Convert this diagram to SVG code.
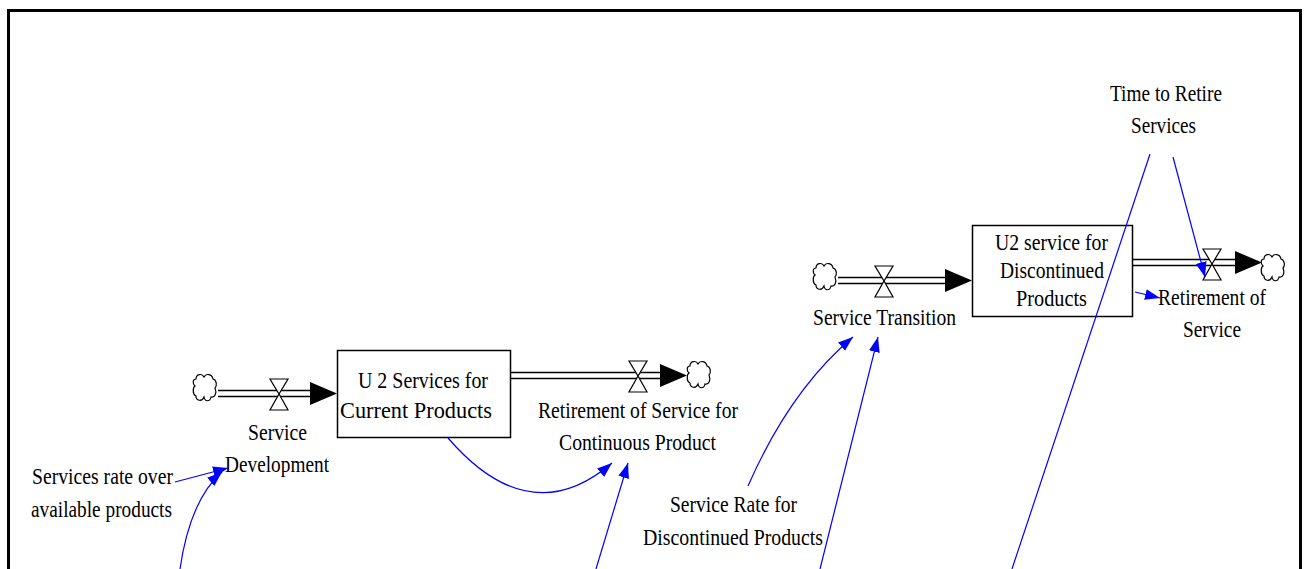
<svg xmlns="http://www.w3.org/2000/svg" width="1304" height="569" viewBox="0 0 1304 569">
<style>
.t{font-family:"Liberation Serif","Times New Roman",serif;font-size:23px;fill:#000}
.box{fill:#fff;stroke:#000;stroke-width:1.5}
.pipe{fill:none;stroke:#000;stroke-width:1.5}
.valve{fill:#fff;stroke:#000;stroke-width:1.2}
.cloud{fill:#fff;stroke:#000;stroke-width:1.2}
.link{fill:none;stroke:#0000ff;stroke-width:1.2}
</style>
<defs>
<marker id="ba" markerUnits="userSpaceOnUse" markerWidth="16" markerHeight="12" refX="15" refY="5.5" orient="auto">
<path d="M0,0 L15,5.5 L0,11 Z" fill="#0000ff"/>
</marker>
<path id="cloud" class="cloud" d="M -9,-9 C -9,-14 -3,-15 -1,-11 C 1,-15 7,-14 8,-9 C 12,-8 12,-2 10,0 C 12,5 10,10 6,9 C 5,14 0,14 -1,9 C -3,14 -9,13 -9,8 C -13,6 -12,-1 -10,-2 C -13,-5 -12,-9 -9,-9 Z"/>
<path id="valve" class="valve" d="M -9,-15 L 9,-15 L 0,0 Z M -9,16 L 9,16 L 0,0 Z"/>
</defs>
<rect x="0" y="0" width="1304" height="569" fill="#fff"/>
<rect x="8.5" y="10.5" width="1292" height="600" fill="none" stroke="#000" stroke-width="3"/>

<g id="flow-service-development">
<use href="#cloud" x="205" y="388"/>
<path class="pipe" d="M 218,390.5 L 312,390.5 M 218,396.5 L 312,396.5"/>
<path d="M 310,382 L 337,393.5 L 310,405 Z" fill="#000"/>
<use href="#valve" x="279" y="394"/>
<text class="t" x="248" y="440" textLength="59" lengthAdjust="spacingAndGlyphs">Service</text>
<text class="t" x="225" y="472" textLength="104" lengthAdjust="spacingAndGlyphs">Development</text>
</g>

<g id="stock-u2-current">
<rect class="box" x="337.5" y="350.5" width="173" height="87"/>
<text class="t" x="358" y="388" textLength="130" lengthAdjust="spacingAndGlyphs">U 2 Services for</text>
<text class="t" x="340" y="418" textLength="152" lengthAdjust="spacingAndGlyphs">Current Products</text>
</g>

<g id="flow-retirement-continuous">
<path class="pipe" d="M 511,372.5 L 662,372.5 M 511,378.5 L 662,378.5"/>
<path d="M 660,364 L 687,375.5 L 660,387 Z" fill="#000"/>
<use href="#valve" x="638" y="376"/>
<use href="#cloud" x="699" y="375"/>
<text class="t" x="538" y="418" textLength="200" lengthAdjust="spacingAndGlyphs">Retirement of Service for</text>
<text class="t" x="559" y="450" textLength="157" lengthAdjust="spacingAndGlyphs">Continuous Product</text>
</g>

<g id="var-services-rate">
<text class="t" x="32" y="484" textLength="141" lengthAdjust="spacingAndGlyphs">Services rate over</text>
<text class="t" x="31" y="517" textLength="141" lengthAdjust="spacingAndGlyphs">available products</text>
</g>

<g id="flow-service-transition">
<use href="#cloud" x="825" y="277"/>
<path class="pipe" d="M 838,277.5 L 948,277.5 M 838,283.5 L 948,283.5"/>
<path d="M 945,269 L 972,280.5 L 945,292 Z" fill="#000"/>
<use href="#valve" x="884" y="281"/>
<text class="t" x="813" y="325" textLength="143" lengthAdjust="spacingAndGlyphs">Service Transition</text>
</g>

<g id="var-service-rate-discontinued">
<text class="t" x="670" y="512" textLength="127" lengthAdjust="spacingAndGlyphs">Service Rate for</text>
<text class="t" x="643" y="545" textLength="180" lengthAdjust="spacingAndGlyphs">Discontinued Products</text>
</g>

<g id="stock-u2-discontinued">
<rect class="box" x="972.5" y="225.5" width="160" height="91"/>
<text class="t" x="995" y="250" textLength="113" lengthAdjust="spacingAndGlyphs">U2 service for</text>
<text class="t" x="1000" y="278" textLength="104" lengthAdjust="spacingAndGlyphs">Discontinued</text>
<text class="t" x="1016" y="306" textLength="71" lengthAdjust="spacingAndGlyphs">Products</text>
</g>

<g id="flow-retirement-service">
<path class="pipe" d="M 1133,259.5 L 1238,259.5 M 1133,265.5 L 1238,265.5"/>
<path d="M 1235,251 L 1262,262.5 L 1235,274 Z" fill="#000"/>
<use href="#valve" x="1212" y="264"/>
<use href="#cloud" x="1273" y="268"/>
<text class="t" x="1158" y="305" textLength="108" lengthAdjust="spacingAndGlyphs">Retirement of</text>
<text class="t" x="1183" y="337" textLength="58" lengthAdjust="spacingAndGlyphs">Service</text>
</g>

<g id="var-time-to-retire">
<text class="t" x="1110" y="101" textLength="112" lengthAdjust="spacingAndGlyphs">Time to Retire</text>
<text class="t" x="1131" y="133" textLength="65" lengthAdjust="spacingAndGlyphs">Services</text>
</g>

<g id="connectors">
<path class="link" d="M 448,438 Q 530,533 612,463" marker-end="url(#ba)"/>
<path class="link" d="M 596,569 L 628,463" marker-end="url(#ba)"/>
<path class="link" d="M 175,482 L 228,468" marker-end="url(#ba)"/>
<path class="link" d="M 180,569 Q 190,500 222,472" marker-end="url(#ba)"/>
<path class="link" d="M 748,486 Q 790,390 853,337" marker-end="url(#ba)"/>
<path class="link" d="M 820,569 L 878,337" marker-end="url(#ba)"/>
<path class="link" d="M 1150,154 L 1012,569"/>
<path class="link" d="M 1173,157 L 1205,277" marker-end="url(#ba)"/>
<path class="link" d="M 1135,292 L 1160,298" marker-end="url(#ba)"/>
</g>
</svg>
